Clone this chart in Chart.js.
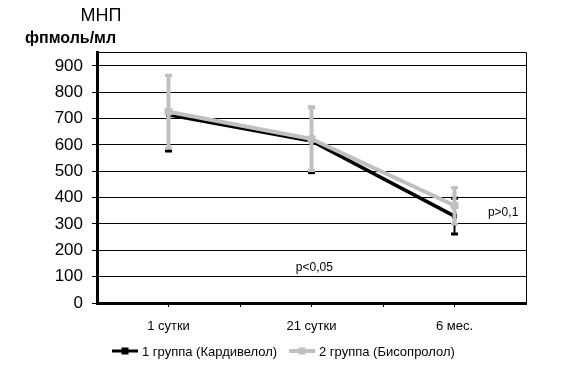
<!DOCTYPE html>
<html>
<head>
<meta charset="utf-8">
<script src="https://cdn.jsdelivr.net/npm/chart.js@4.4.1/dist/chart.umd.min.js"></script>
<style>
html,body{margin:0;padding:0;background:#fff;}
#wrap{width:588px;height:380px;position:relative;}
</style>
</head>
<body>
<div id="wrap"><canvas id="c" width="588" height="380"></canvas></div>
<script>
const categories = ['1 сутки', '21 сутки', '6 мес.'];
const group1Label = '1 группа (Кардивелол)';
const group2Label = '2 группа (Бисопролол)';
const group1 = [715, 615, 330];
const group1ErrUp = [149, 128, 68];
const group1ErrDown = [138, 120, 68];
const group2 = [726, 623, 370];
const group2ErrUp = [138, 120, 68];
const group2ErrDown = [138, 120, 70];
const yTicks = [0, 100, 200, 300, 400, 500, 600, 700, 800, 900];
const titleMain = 'МНП';
const titleUnit = 'фпмоль/мл';
const notes = [
  { text: 'p<0,05', xIndex: 1.02, y: 133 },
  { text: 'p>0,1', xIndex: 2.34, y: 342 }
];

const FONT = '"Liberation Sans", Arial, sans-serif';
const BLACK = '#000000';
const GRAY = '#c0c0c0';

const extras = {
  id: 'extras',
  beforeDatasetsDraw(chart) {
    const ctx = chart.ctx, a = chart.chartArea;
    const x = chart.scales.x;
    ctx.save();
    ctx.strokeStyle = BLACK; ctx.lineWidth = 1;
    ctx.beginPath();
    ctx.moveTo(a.left, a.top + 0.5); ctx.lineTo(a.right + 0.5, a.top + 0.5);
    ctx.lineTo(a.right + 0.5, a.bottom);
    ctx.stroke();
    for (let i = 0; i < categories.length - 1; i++) {
      const px = Math.round(x.getPixelForValue(i + 0.5)) + 0.5;
      ctx.beginPath(); ctx.moveTo(px, a.bottom); ctx.lineTo(px, a.bottom + 4); ctx.stroke();
    }
    ctx.restore();
  },
  afterDatasetsDraw(chart) {
    const ctx = chart.ctx;
    const x = chart.scales.x, y = chart.scales.y;
    const drawBars = (vals, up, down, color, lw, capW, capH) => {
      ctx.save();
      ctx.strokeStyle = color; ctx.fillStyle = color; ctx.lineWidth = lw;
      vals.forEach((v, i) => {
        const px = x.getPixelForValue(i);
        const top = y.getPixelForValue(v + up[i]);
        const bot = y.getPixelForValue(v - down[i]);
        ctx.beginPath(); ctx.moveTo(px, top); ctx.lineTo(px, bot); ctx.stroke();
        ctx.fillRect(px - capW / 2, top - capH / 2, capW, capH);
        ctx.fillRect(px - capW / 2, bot - capH / 2, capW, capH);
      });
      ctx.restore();
    };
    drawBars(group1, group1ErrUp, group1ErrDown, BLACK, 2, 7, 3);
    drawBars(group2, group2ErrUp, group2ErrDown, GRAY, 4, 7, 3);
    ctx.save();
    ctx.fillStyle = GRAY;
    group2.forEach((v, i) => {
      const px = x.getPixelForValue(i), py = y.getPixelForValue(v);
      ctx.fillRect(px - 4, py - 3.5, 8, 7);
    });
    ctx.restore();
  },
  afterDraw(chart) {
    const ctx = chart.ctx;
    const x = chart.scales.x, y = chart.scales.y;
    ctx.save();
    ctx.fillStyle = BLACK;
    ctx.textBaseline = 'middle';
    ctx.font = '18px ' + FONT;
    ctx.textAlign = 'center';
    ctx.fillText(titleMain, 101, 16);
    ctx.font = 'bold 16px ' + FONT;
    ctx.textAlign = 'left';
    ctx.fillText(titleUnit, 25, 39);
    ctx.font = '12px ' + FONT;
    ctx.textAlign = 'center';
    notes.forEach(n => ctx.fillText(n.text, x.getPixelForValue(n.xIndex), y.getPixelForValue(n.y)));
    const ly = 351;
    const items = [
      { label: group1Label, color: BLACK, x0: 112, lw: 3 },
      { label: group2Label, color: GRAY, x0: 289, lw: 4 }
    ];
    ctx.font = '13px ' + FONT;
    ctx.textAlign = 'left';
    items.forEach(it => {
      ctx.strokeStyle = it.color; ctx.fillStyle = it.color; ctx.lineWidth = it.lw;
      ctx.beginPath(); ctx.moveTo(it.x0, ly); ctx.lineTo(it.x0 + 26, ly); ctx.stroke();
      ctx.fillRect(it.x0 + 13 - 3.5, ly - 3.5, 7, 7);
      ctx.fillStyle = BLACK;
      ctx.fillText(it.label, it.x0 + 30, ly + 1);
    });
    ctx.restore();
  }
};

new Chart(document.getElementById('c'), {
  type: 'line',
  data: {
    labels: categories,
    datasets: [
      {
        label: group1Label, data: group1, borderColor: BLACK, backgroundColor: BLACK,
        borderWidth: 3.5, pointStyle: 'rect', pointRadius: 3.5, pointBackgroundColor: BLACK,
        pointBorderWidth: 0, tension: 0, fill: false, order: 1
      },
      {
        label: group2Label, data: group2, borderColor: GRAY, backgroundColor: GRAY,
        borderWidth: 4, pointStyle: 'rect', pointRadius: 4, pointBackgroundColor: GRAY,
        pointBorderWidth: 0, tension: 0, fill: false, order: 0
      }
    ]
  },
  options: {
    responsive: false,
    animation: false,
    devicePixelRatio: 1,
    layout: { padding: { left: 0, right: 62, top: 52, bottom: 0 } },
    plugins: { legend: { display: false }, tooltip: { enabled: false }, title: { display: false } },
    scales: {
      x: {
        type: 'category',
        offset: true,
        grid: { drawOnChartArea: false, drawTicks: true, tickLength: 4, color: BLACK, offset: false },
        border: { display: true, color: BLACK, width: 3 },
        ticks: { color: BLACK, font: { family: FONT, size: 13 }, padding: 12, maxRotation: 0 },
        afterFit(s) { s.height = 77; }
      },
      y: {
        min: 0, max: 953,
        grid: { color: BLACK, lineWidth: 1, drawTicks: true, tickLength: 5 },
        border: { display: true, color: BLACK, width: 3 },
        ticks: { stepSize: 100, color: BLACK, font: { family: FONT, size: 17 }, padding: 9 },
        afterBuildTicks(s) { s.ticks = yTicks.map(v => ({ value: v })); },
        afterFit(s) { s.width = 97; }
      }
    }
  },
  plugins: [extras]
});
</script>
</body>
</html>
